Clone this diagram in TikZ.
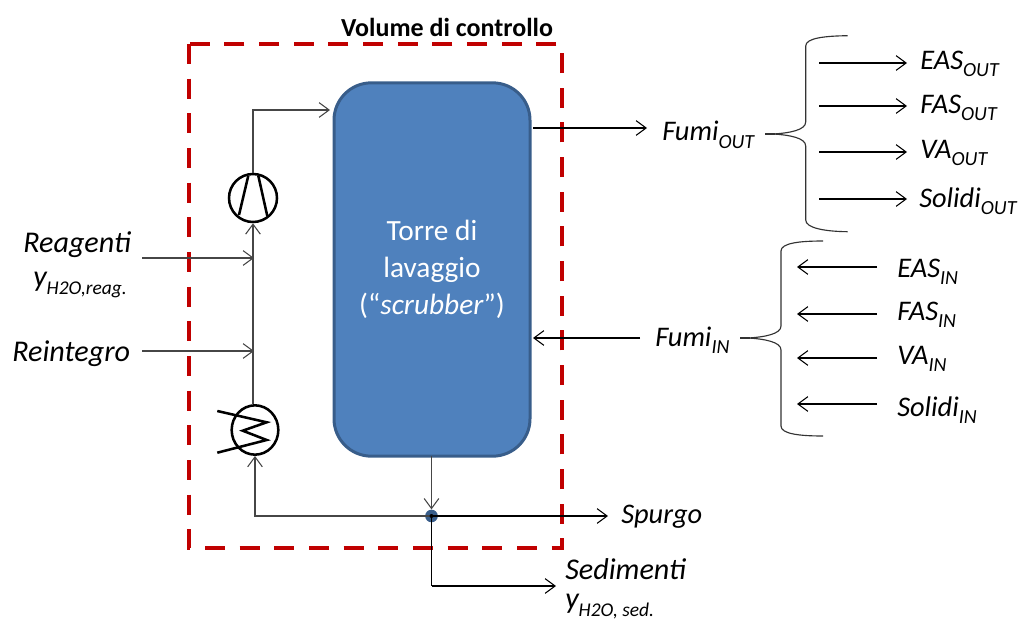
\documentclass[tikz,border=0pt]{standalone}
\usepackage{fontspec}
\setmainfont{Carlito}
\usetikzlibrary{arrows.meta,shapes.geometric}
\definecolor{towerblue}{RGB}{79,129,189}
\definecolor{towerline}{RGB}{56,93,138}
\definecolor{limitred}{RGB}{192,0,0}
\definecolor{pipegray}{RGB}{70,70,70}
\newcommand{\flowname}[2]{\textit{#1\raisebox{-0.55ex}{\fontsize{15}{15}\selectfont #2}}}
\newcommand{\yname}[1]{\textit{y\raisebox{-0.55ex}{\fontsize{14.6}{15}\selectfont #1}}}
\tikzset{
  flow/.style={draw=pipegray,line width=0.95pt,-{Straight Barb[length=7.5pt,width=11pt,line width=0.8pt]}},
  pipe/.style={draw=pipegray,line width=0.95pt},
  brace/.style={draw=black!80,line width=0.85pt},
  label/.style={anchor=west,inner sep=0.75pt,font=\fontsize{21.3}{22}\selectfont},
  biglabel/.style={label,font=\fontsize{22.6}{23}\selectfont},
  machine/.style={draw=black,line width=1.9pt,fill=white,inner sep=0pt}
}
\begin{document}
\begin{tikzpicture}[x=0.75pt,y=0.75pt,yscale=-1,xscale=1]
\useasboundingbox (0,0) rectangle (1022,621);

%Shape: Control volume
\draw [draw=limitred,line width=3pt,dash pattern={on 15pt off 11pt}] (189,44) rectangle (562,548);
% Text Node
\draw (447,27) node (volume) [inner sep=0.75pt,font=\fontsize{19.5}{20}\selectfont\bfseries] {Volume di controllo};

%Shape: Tower
\node (tower) at (432,269.5) [draw=towerline,fill=towerblue,line width=2.25pt,rounded corners=28pt,minimum width=147pt,minimum height=280pt,text=white,align=center,font=\fontsize{22}{28}\selectfont] {\raisebox{-3.5pt}{Torre di}\\\raisebox{-3.5pt}{lavaggio}\\\raisebox{-3.5pt}{(“\textit{scrubber}”)}};

%Shape: Compressor
\node (pump) at (253,198) [machine,circle,minimum size=36pt] {};
\draw [machine] (248.3,175.7) -- (239,215);
\draw [machine] (258.3,175.7) -- (267.3,216);
%Shape: Heat exchanger
\node (cooler) at (255,430) [machine,ellipse,minimum width=35pt,minimum height=37pt] {};
\draw [machine,fill=none,line join=miter] (217.3,411) -- (266.7,422.3) -- (242.7,430.7) -- (266.7,440) -- (217.3,452.7);
%Shape: Junction
\node (junction) at (431.5,516) [circle,fill=towerline,minimum size=9.5pt,inner sep=0pt] {};

\coordinate (towerin) at (330,110);
\coordinate (reagin) at (142,258);
\coordinate (reagend) at (254,258);
\coordinate (reintin) at (142,351);
\coordinate (reintend) at (254,351);
\coordinate (bottomout) at (431.5,456);
\coordinate (sedcorner) at (431.5,586);
\coordinate (sedend) at (556,586);
\coordinate (purgeend) at (608,516);
\coordinate (fumioutstart) at (533,128);
\coordinate (fumioutend) at (647,128);
\coordinate (fumiinstart) at (640,338);
\coordinate (fumiinend) at (533,338);

%Straight Lines
\draw [flow] (pump.north) |- (towerin);
\draw [flow] (cooler.north -| pump.south) -- (pump.south);
\draw [flow] (reagin) -- (reagend);
\draw [flow] (reintin) -- (reintend);
\draw [flow] (junction.center) -| (cooler.south);
\draw [flow] (bottomout) -- (junction.north);
\draw [flow,draw=black] (junction.center) -- (purgeend);
\draw [pipe,draw=black] (junction.center) -- (sedcorner);
\draw [flow,draw=black] (sedcorner) -- (sedend);
\draw [flow,draw=black] (fumioutstart) -- (fumioutend);
\draw [flow,draw=black] (fumiinstart) -- (fumiinend);
\node at (junction.center) [circle,fill=black,minimum size=3pt,inner sep=0pt] {};

%Shape: Brace out
\draw [brace] (847.7,35.7) .. controls (825,36) and (805.7,38) .. (805.7,46) -- (805.7,122) .. controls (805.7,130) and (790,133) .. (773,134) .. controls (790,135) and (805.7,138) .. (805.7,146) -- (805.7,220) .. controls (805.7,228) and (825,231.5) .. (847.7,231.7);
\draw [brace,line width=1.5pt] (765,134) -- (775,134);
%Shape: Brace in
\draw [brace] (823,241) .. controls (800,241) and (781,243) .. (781,251) -- (781,326) .. controls (781,334) and (765,337) .. (748,338) .. controls (765,339) and (781,342) .. (781,350) -- (781,426) .. controls (781,434) and (800,436) .. (823,436);
\draw [brace,line width=1.5pt] (740,338) -- (750,338);

%Straight Lines
\foreach \ya/\namea/\yb/\nameb in {63/eo/267/ei,106/fo/314/fi,152/vo/358/vi,199/so/404/si}{
  \coordinate (\namea a) at (819,\ya);
  \coordinate (\namea b) at (907,\ya);
  \coordinate (\nameb a) at (877,\yb);
  \coordinate (\nameb b) at (797,\yb);
  \draw [flow,draw=black] (\namea a) -- (\namea b);
  \draw [flow,draw=black] (\nameb a) -- (\nameb b);
}

% Text Node
\draw (22,245) node (reagenti) [biglabel] {\textit{Reagenti}};
\draw (32,285) node (yreag) [biglabel] {\yname{H2O,reag.}};
\draw (11,353.5) node (reintegro) [biglabel] {\textit{Reintegro}};
\draw (620,517) node (spurgo) [label] {\textit{Spurgo}};
\draw (564,569) node (sedimenti) [biglabel] {\textit{Sedimenti}};
\draw (564,607) node (ysed) [biglabel] {\yname{H2O, sed.}};
\draw (661,135) node (fumiout) [label] {\flowname{Fumi}{OUT}};
\draw (654,340) node (fumiin) [label] {\flowname{Fumi}{IN}};
\draw (919,64) node (easout) [label] {\flowname{EAS}{OUT}};
\draw (919,108) node (fasout) [label] {\flowname{FAS}{OUT}};
\draw (919,153) node (vaout) [label] {\flowname{VA}{OUT}};
\draw (918,201) node (solout) [label] {\flowname{Solidi}{OUT}};
\draw (896,272) node (easin) [label] {\flowname{EAS}{IN}};
\draw (896,315) node (fasin) [label] {\flowname{FAS}{IN}};
\draw (896,359) node (vain) [label] {\flowname{VA}{IN}};
\draw (896,410) node (solin) [label] {\flowname{Solidi}{IN}};

\end{tikzpicture}
\end{document}
